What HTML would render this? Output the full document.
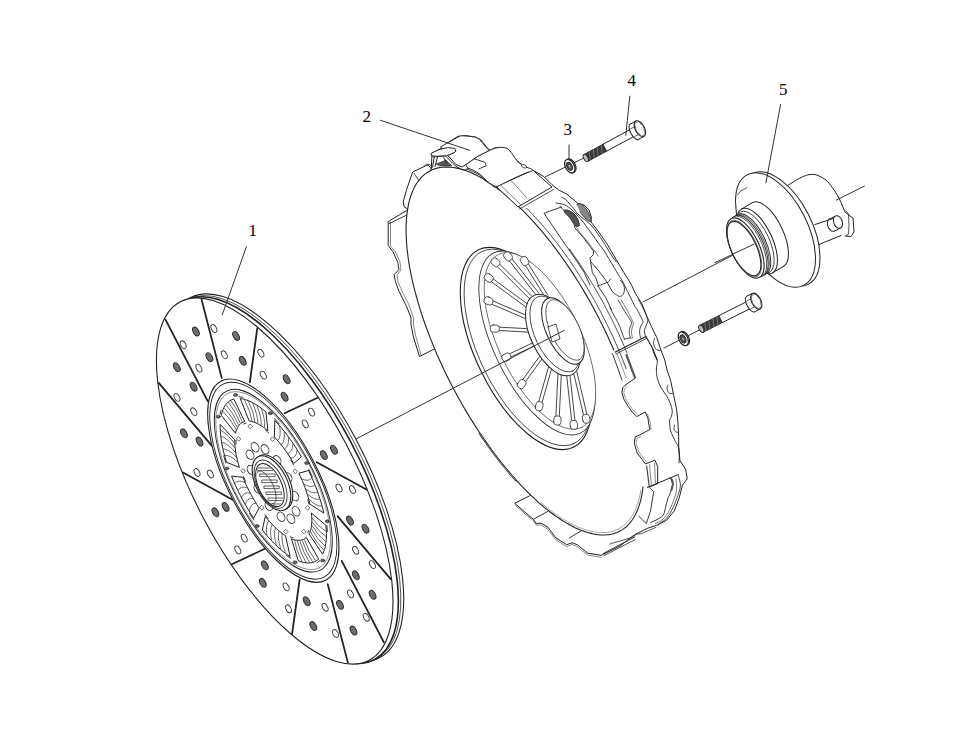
<!DOCTYPE html>
<html><head><meta charset="utf-8"><style>
html,body{margin:0;padding:0;background:#fff;}
svg{display:block;}
text{font-family:"Liberation Serif",serif;}
</style></head><body>
<svg width="960" height="750" viewBox="0 0 960 750" stroke-linecap="round" stroke-linejoin="round">
<rect width="960" height="750" fill="#fff"/>
<line x1="864.4" y1="186.1" x2="836.4" y2="200.1" stroke="#333" stroke-width="1"/>
<line x1="754.2" y1="244" x2="643" y2="302" stroke="#333" stroke-width="1"/>
<line x1="545" y1="177" x2="584.2" y2="157.8" stroke="#333" stroke-width="1"/>
<line x1="664" y1="348" x2="701.3" y2="329" stroke="#333" stroke-width="1"/>
<path d="M787 186 C789.2 184.7 796.2 179.9 800 178 C803.8 176.1 807 174.9 810 174.5 C813 174.1 815.2 174.4 818 175.5 C820.8 176.6 824.3 178.6 827 181 C829.7 183.4 832 187.2 834 190 C836 192.8 837.7 195.5 839 198 C840.3 200.5 841.5 203.8 842 205" fill="none" stroke="#222" stroke-width="1"/>
<path d="M842 205 L845 212 L850 216 L853 218 L853.5 224 L854 232 L851 236.5 L845.5 236" fill="none" stroke="#222" stroke-width="1"/>
<path d="M846 211 L848.5 214 L849 226 L848.5 234 L846 236" fill="none" stroke="#222" stroke-width="0.8"/>
<ellipse cx="832" cy="225" rx="6.5" ry="4.3" transform="rotate(70 832 225)" fill="#fff" stroke="#222" stroke-width="1"/><path d="M829.5 219 L834.5 231 L840.5 228 L835.5 216 Z" fill="#fff" stroke="none"/><line x1="829.5" y1="219" x2="835.5" y2="216" stroke="#222" stroke-width="1"/><line x1="834.5" y1="231" x2="840.5" y2="228" stroke="#222" stroke-width="1"/><ellipse cx="838" cy="222" rx="6.5" ry="4.3" transform="rotate(70 838 222)" fill="#fff" stroke="#222" stroke-width="1"/>
<line x1="815" y1="224.5" x2="833" y2="218.5" stroke="#222" stroke-width="1"/>
<line x1="819" y1="244.5" x2="841" y2="235.5" stroke="#222" stroke-width="1"/>
<ellipse cx="780" cy="229" rx="62.1" ry="31.9" transform="rotate(63.1 780 229)" fill="#fff" stroke="#222" stroke-width="1"/>
<ellipse cx="775.5" cy="230" rx="62.1" ry="31.9" transform="rotate(63.1 775.5 230)" fill="#fff" stroke="#222" stroke-width="1"/>
<path d="M737.3 195.1 Q739.5 190.5 746.7 187.6" fill="none" stroke="#333" stroke-width="0.8"/>
<ellipse cx="768" cy="234.5" rx="35.5" ry="15.2" transform="rotate(64.8 768 234.5)" fill="#fff" stroke="#222" stroke-width="1"/><path d="M783.7 266.3 L752.3 202.7 L741.3 209.2 L772.7 272.8 Z" fill="#fff" stroke="none"/><line x1="783.7" y1="266.3" x2="772.7" y2="272.8" stroke="#222" stroke-width="1"/><line x1="752.3" y1="202.7" x2="741.3" y2="209.2" stroke="#222" stroke-width="1"/><ellipse cx="757" cy="241" rx="35.5" ry="15.2" transform="rotate(64.8 757 241)" fill="#fff" stroke="#222" stroke-width="1"/>
<ellipse cx="755" cy="242.2" rx="33.5" ry="14.3" transform="rotate(64.8 755 242.2)" fill="#fff" stroke="#333" stroke-width="0.8"/>
<ellipse cx="751.8" cy="244.2" rx="33" ry="14" transform="rotate(64.8 751.8 244.2)" fill="#fff" stroke="#222" stroke-width="0.9"/>
<ellipse cx="750.5" cy="245" rx="33" ry="14" transform="rotate(64.8 750.5 245)" fill="#fff" stroke="#222" stroke-width="0.7"/>
<ellipse cx="749.2" cy="245.7" rx="33" ry="14" transform="rotate(64.8 749.2 245.7)" fill="#fff" stroke="#222" stroke-width="0.9"/>
<ellipse cx="747.9" cy="246.5" rx="33" ry="14" transform="rotate(64.8 747.9 246.5)" fill="#fff" stroke="#222" stroke-width="0.7"/>
<ellipse cx="745.3" cy="248" rx="32.6" ry="14" transform="rotate(64.8 745.3 248)" fill="#fff" stroke="#222" stroke-width="1.1"/>
<ellipse cx="744.3" cy="248.5" rx="30.6" ry="13" transform="rotate(64.8 744.3 248.5)" fill="#fff" stroke="#555" stroke-width="0.7"/>
<ellipse cx="744" cy="248.6" rx="29.4" ry="12.5" transform="rotate(64.8 744 248.6)" fill="#fff" stroke="#222" stroke-width="1.1"/>
<line x1="754.2" y1="244" x2="715" y2="262.7" stroke="#333" stroke-width="1"/>
<path d="M606.6 151.2 L636 135.3 L632.3 128.4 L602.9 144.3 Z" fill="#fff" stroke="none"/><line x1="606.6" y1="151.2" x2="636" y2="135.3" stroke="#222" stroke-width="1"/><line x1="602.9" y1="144.3" x2="632.3" y2="128.4" stroke="#222" stroke-width="1"/><path d="M587.7 161.4 L606.6 151.2 L602.9 144.3 L583.9 154.6 Z" fill="#3c3c3c" stroke="#222" stroke-width="0.9"/><line x1="590.3" y1="160" x2="589.2" y2="151.7" stroke="#888" stroke-width="0.7"/><line x1="594.3" y1="157.9" x2="593.2" y2="149.6" stroke="#888" stroke-width="0.7"/><line x1="598.2" y1="155.7" x2="597.1" y2="147.4" stroke="#888" stroke-width="0.7"/><line x1="602.2" y1="153.6" x2="601.1" y2="145.3" stroke="#888" stroke-width="0.7"/><ellipse cx="585.8" cy="158" rx="3.9" ry="2.1" transform="rotate(61.6 585.8 158)" fill="#bbb" stroke="#222" stroke-width="0.9"/><ellipse cx="634.2" cy="131.8" rx="8.7" ry="3.6" transform="rotate(61.6 634.2 131.8)" fill="#fff" stroke="#222" stroke-width="1"/><path d="M638.3 139.5 L644 136.4 L635.8 121.1 L630 124.2 Z" fill="#fff" stroke="none"/><line x1="638.3" y1="139.5" x2="644" y2="136.4" stroke="#222" stroke-width="1"/><line x1="630" y1="124.2" x2="635.8" y2="121.1" stroke="#222" stroke-width="1"/><line x1="630.5" y1="128.9" x2="636.8" y2="125.5" stroke="#333" stroke-width="0.8"/><line x1="634.7" y1="136.5" x2="640.9" y2="133.1" stroke="#333" stroke-width="0.8"/><ellipse cx="639.9" cy="128.7" rx="8.7" ry="4.6" transform="rotate(61.6 639.9 128.7)" fill="#fff" stroke="#222" stroke-width="1.1"/><path d="M641.3 135.9 L636.1 130.8 L634.7 123.6 L638.4 121.6 L643.7 126.7 L645.1 133.9 Z" fill="none" stroke="#444" stroke-width="0.7"/>
<path d="M722.3 322.6 L752.2 307.6 L748.7 300.6 L718.8 315.7 Z" fill="#fff" stroke="none"/><line x1="722.3" y1="322.6" x2="752.2" y2="307.6" stroke="#222" stroke-width="1"/><line x1="718.8" y1="315.7" x2="748.7" y2="300.6" stroke="#222" stroke-width="1"/><path d="M703.1 332.3 L722.3 322.6 L718.8 315.7 L699.5 325.3 Z" fill="#3c3c3c" stroke="#222" stroke-width="0.9"/><line x1="705.7" y1="330.9" x2="704.9" y2="322.6" stroke="#888" stroke-width="0.7"/><line x1="709.8" y1="328.9" x2="708.9" y2="320.6" stroke="#888" stroke-width="0.7"/><line x1="713.8" y1="326.9" x2="713" y2="318.6" stroke="#888" stroke-width="0.7"/><line x1="717.8" y1="324.9" x2="717" y2="316.6" stroke="#888" stroke-width="0.7"/><ellipse cx="701.3" cy="328.8" rx="3.9" ry="2.1" transform="rotate(63.3 701.3 328.8)" fill="#bbb" stroke="#222" stroke-width="0.9"/><ellipse cx="750.4" cy="304.1" rx="8.7" ry="3.6" transform="rotate(63.3 750.4 304.1)" fill="#fff" stroke="#222" stroke-width="1"/><path d="M754.4 311.9 L760.2 309 L752.4 293.4 L746.5 296.3 Z" fill="#fff" stroke="none"/><line x1="754.4" y1="311.9" x2="760.2" y2="309" stroke="#222" stroke-width="1"/><line x1="746.5" y1="296.3" x2="752.4" y2="293.4" stroke="#222" stroke-width="1"/><line x1="746.9" y1="301" x2="753.2" y2="297.8" stroke="#333" stroke-width="0.8"/><line x1="750.8" y1="308.8" x2="757.1" y2="305.6" stroke="#333" stroke-width="0.8"/><ellipse cx="756.3" cy="301.2" rx="8.7" ry="4.6" transform="rotate(63.3 756.3 301.2)" fill="#fff" stroke="#222" stroke-width="1.1"/><path d="M757.5 308.4 L752.4 303.1 L751.2 295.9 L755 294 L760.1 299.3 L761.3 306.5 Z" fill="none" stroke="#444" stroke-width="0.7"/>
<ellipse cx="570.9" cy="165.6" rx="7.3" ry="4.4" transform="rotate(-118.4 570.9 165.6)" fill="#fff" stroke="#222" stroke-width="1.1"/><ellipse cx="569.8" cy="166.2" rx="7.3" ry="4.4" transform="rotate(-118.4 569.8 166.2)" fill="#fff" stroke="#222" stroke-width="1.3"/><ellipse cx="569.5" cy="166.3" rx="4.3" ry="2.6" transform="rotate(-118.4 569.5 166.3)" fill="#555" stroke="#222" stroke-width="0.9"/><ellipse cx="569.5" cy="166.3" rx="2.2" ry="1.3" transform="rotate(-118.4 569.5 166.3)" fill="#aaa" stroke="#333" stroke-width="0.6"/>
<ellipse cx="684.5" cy="338.2" rx="7.3" ry="4.4" transform="rotate(-116.7 684.5 338.2)" fill="#fff" stroke="#222" stroke-width="1.1"/><ellipse cx="683.3" cy="338.8" rx="7.3" ry="4.4" transform="rotate(-116.7 683.3 338.8)" fill="#fff" stroke="#222" stroke-width="1.3"/><ellipse cx="683" cy="338.9" rx="4.3" ry="2.6" transform="rotate(-116.7 683 338.9)" fill="#555" stroke="#222" stroke-width="0.9"/><ellipse cx="683" cy="338.9" rx="2.2" ry="1.3" transform="rotate(-116.7 683 338.9)" fill="#aaa" stroke="#333" stroke-width="0.6"/>
<path d="M419.4 356.2 L413.4 336.9 L411 324.9 L411 317.7 L406.2 305.7 L399 291.3 L395.4 281.7 L394.2 274.5 L399 269.7 L397.8 262.5 L393 251.7 L388.2 245.6 L388.2 221.6 L406.2 210.8 L408.6 209.6 L404 206.7 L403.3 201.3 L406.7 189.3 L412.7 172 L428 164.7 L431.3 168.7 L432 153.3 L442 148 L447.3 143 L458 136.3 L466 135.7 L475.3 137 L480.7 139.7 L486 146.3 L490 150.3 L495.3 147.7 L502 147.7 L508.7 151.7 L514 158.3 L520.7 163.7 L526 167.7 L534.7 171.3 L544 176.7 L552 184.7 L558.7 190 L566.7 194 L574.7 200.7 L578 203.5 L584 205 L589 210 L591.3 217 L591 222 L597.3 230 L606.7 243.3 L616 259.3 L624 272.7 L630.7 283.3 L635.3 293.3 L642 304 L647.3 317.3 L652.7 329.3 L656.7 337.3 L660.7 349.3 L664.7 360 L667.3 370.7 L670.7 380.7 L674 396.7 L676.7 410 L678 423.3 L678.7 436.7 L678.7 450 L680 460.7 L685.6 469.2 L687.2 478.8 L682.4 485.2 L679.2 498 L674.4 510.8 L666.4 520.4 L656.8 525.2 L647.2 528.4 L634.4 534.8 L620 546 L601.3 555.3 L588 553.3 L585.3 551.3 L577.3 544.7 L572 542.7 L566.7 544.7 L556 538 L548 527.3 L541.3 523.3 L536 523.3 L533.3 519.3 L514.7 503.3 L530.7 495.3 L529.1 492.1 L523.7 486.7 L518.3 481 L512.9 475 L507.6 468.7 L502.2 462.2 L497 455.5 L491.8 448.5 L486.6 441.4 L481.5 434 L476.6 426.5 L471.7 418.8 L466.9 411 L462.3 403 L457.8 395 L453.4 386.8 L449.2 378.6 L445.2 370.3 L441.3 361.9 L437.6 353.6 L435 349 Z" fill="#fff" stroke="#222" stroke-width="1"/>
<path d="M388.2 221.6 L390.5 222.5 L390.5 246 L395.5 252 L400 262 L401 270 L397 275 L398 282 L402 291 L409 305 L413.5 318 L413.5 325 L416 337 L421 355" fill="none" stroke="#555" stroke-width="0.7"/>
<line x1="414" y1="173.3" x2="419.3" y2="181.3" stroke="#222" stroke-width="0.8"/>
<line x1="389.5" y1="223.5" x2="408" y2="214.4" stroke="#222" stroke-width="0.9"/>
<path d="M515.5 505.5 L533.5 521 L536 525 L541 525 L547.5 529 L555.5 539.5 L566.5 546.5 L572 544.5 L577 546.5 L585 553 L588 555.2 L601.3 557.3" fill="none" stroke="#555" stroke-width="0.7"/>
<line x1="533.3" y1="519.3" x2="548" y2="511.3" stroke="#222" stroke-width="0.9"/>
<line x1="569.3" y1="538" x2="582.7" y2="530" stroke="#222" stroke-width="0.9"/>
<line x1="603" y1="553.6" x2="634.4" y2="537.2" stroke="#222" stroke-width="0.9"/>
<line x1="604" y1="555.6" x2="635.2" y2="539.6" stroke="#222" stroke-width="0.8"/>
<path d="M610 543.9 C613.5 542.8 626.8 539.1 631.3 537.5 C635.8 535.9 634.9 535 636.7 534.3 C638.5 533.6 638.8 534.4 642 533.3 C645.2 532.1 653.6 528.4 655.9 527.4" fill="none" stroke="#222" stroke-width="0.8"/>
<path d="M561.9 197.4 C562.5 197.8 564.4 198.3 565.7 199.5 C567 200.7 568.6 202.8 569.9 204.3 C571.2 205.8 572.4 207 573.7 208.6 C575 210.2 575.9 212.2 577.6 213.9 C579.3 215.6 581.6 217 584 219 C586.4 221 589.7 223.6 592 226 C594.3 228.4 595.7 231 597.6 233.6 C599.5 236.2 601.5 238.9 603.2 241.6 C604.9 244.3 606.5 247.2 608 249.6 C609.5 252 610.6 253.9 612 256 C613.4 258.1 615.7 261 616.4 262" fill="none" stroke="#222" stroke-width="0.9"/>
<path d="M556 203 C557.5 203.3 562.1 203.8 564.8 205 C567.5 206.2 569.5 207.8 572 210 C574.5 212.2 577.6 215.7 580 218.4 C582.4 221.1 584.3 223.6 586.4 226.4 C588.5 229.2 590.8 232.4 592.8 235.2 C594.8 238 596.6 240.7 598.4 243.2 C600.2 245.7 601.5 246.9 603.6 250 C605.7 253.1 608.4 258 610.8 262 C613.2 266 616.1 270.9 618 274 C619.9 277.1 620.8 278.3 622 280.4 C623.2 282.5 623.9 284.1 625.2 286.8 C626.5 289.5 628.4 293.2 630 296.4 C631.6 299.6 633.6 303.8 634.8 306 C636 308.2 636 307.4 637.2 309.6 C638.4 311.8 641.1 317.1 642 319.2 C642.9 321.3 643.1 321.1 642.8 322.4 C642.5 323.7 640.9 325.6 640.4 327.2 C639.9 328.8 639.6 330.4 639.6 332 C639.6 333.6 640.1 335.7 640.4 336.8 C640.7 337.9 641.1 338.1 641.2 338.4" fill="none" stroke="#222" stroke-width="0.9"/>
<path d="M638.8 300 C639.5 301.3 641.5 304.8 643 308 C644.5 311.2 647 316.5 647.6 319.2 C648.2 321.9 647.3 322.1 646.8 324 C646.3 325.9 644.7 328.5 644.4 330.4 C644.1 332.3 644.9 334.1 645.2 335.2 C645.5 336.3 645.9 336.5 646 336.8" fill="none" stroke="#222" stroke-width="0.9"/>
<path d="M652.4 348 C652.8 349.2 653.7 352.9 654.5 355 C655.3 357.1 657 358.3 657.3 360.6 C657.6 362.9 656.4 366.1 656.4 369 C656.4 371.9 656.5 375.2 657.3 378.3 C658.1 381.4 659.5 384.7 661.1 387.7 C662.7 390.7 665.2 393.5 666.7 396.1 C668.2 398.7 669.5 401 670.4 403.5 C671.3 406 672.1 408.8 672.3 411 C672.4 413.2 671.8 415.1 671.3 416.6 C670.8 418.2 669.8 418.9 669.5 420.3 C669.2 421.7 669.6 423.2 669.8 425 C670 426.8 669.8 428.4 670.7 431.2 C671.6 433.9 674 438.6 675.4 441.5 C676.8 444.4 678.5 445.3 679.1 448.9 C679.7 452.5 679.1 460.6 679.1 462.9" fill="none" stroke="#222" stroke-width="0.9"/>
<path d="M654.5 338.4 C654.3 339.2 653.4 341.4 653.5 343 C653.6 344.6 654.2 346.8 655 348 C655.8 349.2 657.1 349.8 658 350.2 C658.9 350.6 660 350.4 660.4 350.4" fill="none" stroke="#222" stroke-width="0.8"/>
<path d="M668 385 C667.8 385.7 666.8 387.7 667 389 C667.2 390.3 668.1 392.2 669 393 C669.9 393.8 671.9 393.4 672.5 393.5" fill="none" stroke="#222" stroke-width="0.8"/>
<path d="M674.5 425 C674.4 425.7 673.8 427.8 674 429 C674.2 430.2 675.2 431.5 676 432 C676.8 432.5 678.1 432 678.5 432" fill="none" stroke="#222" stroke-width="0.8"/>
<path d="M560 206.5 L564 210.4 L568 210.4 L573.6 213.6 L577.6 219.2 L579.2 225.6 L574.4 225.6 L574.4 227.2 L578.4 232 L584 238.4 L588.8 244.8 L591.2 248 L593.6 251.2 L593.2 254.8 L590 258 L592.4 273.2 L595.6 277.2 L598 284.4 L598 286 L606 298 L611.6 310" fill="none" stroke="#222" stroke-width="0.9"/>
<path d="M576 226.4 C576.8 227.6 579.1 231.3 580.8 233.6 C582.5 235.9 584.8 238 586.4 240 C588 242 589.1 243.9 590.4 245.6 C591.7 247.3 592.7 248.3 594 250 C595.3 251.7 597.3 255 598 256" fill="none" stroke="#444" stroke-width="0.7"/>
<path d="M591 262 C592.2 263.3 595.8 267.3 598 270 C600.2 272.7 602.3 275.6 604 278 C605.7 280.4 607 282.1 608.4 284.4 C609.8 286.7 611.1 289.9 612.4 291.6 C613.7 293.3 615.2 294 616.4 294.8 C617.6 295.6 618.5 296.4 619.6 296.4 C620.7 296.4 622 295.9 622.8 294.8 C623.6 293.7 624.3 291.7 624.4 290 C624.5 288.3 624.3 286 623.6 284.4 C622.9 282.8 620.9 281.1 620.4 280.4" fill="none" stroke="#222" stroke-width="0.9"/>
<path d="M598 286 L608.4 282 L610.8 278.8" fill="none" stroke="#222" stroke-width="0.8"/>
<path d="M564 210.4 C564.7 210.4 566.4 209.7 568 210.2 C569.6 210.7 572 212.1 573.6 213.6 C575.2 215.1 576.7 217.2 577.6 219.2 C578.5 221.2 579.6 224.5 579.2 225.6 C578.8 226.7 576.5 226.9 575 225.6 C573.5 224.3 571.8 220.3 570 218 C568.2 215.7 565 213 564 212" fill="#555" stroke="#222" stroke-width="0.8"/>
<path d="M576.8 204.8 C577.3 204.6 578.8 203.3 580 203.6 C581.2 203.9 582.7 205 584 206.4 C585.3 207.8 586.9 210.1 588 212 C589.1 213.9 589.9 216 590.4 217.6 C590.9 219.2 591.5 221.4 590.8 221.6 C590.1 221.8 587.8 220.6 586 219 C584.2 217.4 581 213.2 580 212" fill="#888" stroke="#222" stroke-width="0.8"/>
<path d="M561.6 206.9 L544 213.3 L560 236.8 L576 260 L584 272 L590 285" fill="none" stroke="#222" stroke-width="0.9"/>
<path d="M618 300 C619.2 302 623.1 308.5 625.2 312 C627.3 315.5 629.7 318.8 630.8 320.8 C631.9 322.8 631.7 322.9 631.6 324 C631.5 325.1 630.4 325.9 630 327.2 C629.6 328.5 629.2 330.4 629.2 332 C629.2 333.6 629.7 335.7 630 336.8 C630.3 337.9 630.7 338.1 630.8 338.4" fill="none" stroke="#222" stroke-width="0.8"/>
<path d="M621.2 300 C622.2 301.7 625.1 306.5 627 310 C628.9 313.5 631.3 318.5 632.4 320.8 C633.5 323.1 633.6 322.8 633.5 324 C633.4 325.2 632.3 326.5 632 328 C631.7 329.5 631.4 331.3 631.5 333 C631.6 334.7 632.3 337.2 632.5 338" fill="none" stroke="#444" stroke-width="0.7"/>
<path d="M624.4 339.2 L630.8 337.6" fill="none" stroke="#222" stroke-width="0.8"/>
<path d="M610 308 L618.8 324 L624.4 339.2" fill="none" stroke="#222" stroke-width="0.8"/>
<path d="M612.4 353.6 L646 336.4 L652.4 348 L657.2 360" fill="none" stroke="#222" stroke-width="1.1"/>
<path d="M613 355.5 L646.5 338.4" fill="none" stroke="#222" stroke-width="0.8"/>
<line x1="613" y1="355" x2="622" y2="380" stroke="#555" stroke-width="0.6"/>
<line x1="615" y1="354.2" x2="624" y2="378.8" stroke="#555" stroke-width="0.6"/>
<line x1="617" y1="353.4" x2="626" y2="377.6" stroke="#555" stroke-width="0.6"/>
<path d="M626.5 355 L634.9 377.4" fill="none" stroke="#555" stroke-width="2.2"/>
<path d="M647.3 487.4 L678.3 474.6" fill="none" stroke="#222" stroke-width="1"/>
<path d="M650.5 488.5 L653.7 491.7 L650.5 510.9 L646.3 523.7 L638.8 516.2" fill="none" stroke="#222" stroke-width="0.9"/>
<path d="M669.7 477.8 C670.2 478.3 672.7 478.7 672.9 481 C673.1 483.3 671.7 488.7 670.8 491.7 C669.9 494.7 668.5 496.4 667.6 499.1 C666.7 501.8 666.4 504.8 665.5 507.7 C664.6 510.6 664.8 513.7 662.3 516.2 C659.8 518.7 652.5 521.5 650.5 522.6" fill="none" stroke="#222" stroke-width="0.9"/>
<path d="M671 478 L673 484 L671.5 490" fill="none" stroke="#555" stroke-width="2"/>
<path d="M678.3 475.7 C678.6 477.5 680.8 482.2 680.4 486.3 C680 490.4 677.5 496.3 676.1 500.2 C674.7 504.1 673.5 506.8 671.9 509.8 C670.3 512.8 668.8 515.8 666.5 518.3 C664.2 520.8 659.4 523.6 658 524.7" fill="none" stroke="#222" stroke-width="0.8"/>
<path d="M676 478.8 C676.1 480.7 677 486.1 676.5 490 C676 493.9 674.3 498.3 673 502 C671.7 505.7 670.3 509 668.5 512 C666.7 515 664.2 518.1 662 520 C659.8 521.9 656.3 523 655.2 523.6" fill="none" stroke="#444" stroke-width="0.7"/>
<path d="M526.7 208.3 L529.7 211.4 L532.7 214.5 L535.6 217.7 L538.6 220.9 L541.6 224.3 L544.5 227.7 L547.5 231.2 L550.4 234.8 L553.3 238.5 L556.2 242.2 L559.1 246 L562 249.8 L564.8 253.7 L567.7 257.7 L570.5 261.7 L573.2 265.8 L576 270 L578.7 274.2 L581.4 278.4 L584.1 282.7 L586.7 287 L589.3 291.4 L591.8 295.8 L594.3 300.2 L596.8 304.7 L599.2 309.1 L601.6 313.7 L603.9 318.2 L606.2 322.8 L608.4 327.3 L610.6 331.9 L612.8 336.5 L614.8 341.1 L616.9 345.7 L618.8 350.3 L620.8 354.9 L622.6 359.5 L624.4 364.1 L626.2 368.7" fill="none" stroke="#222" stroke-width="0.8"/>
<path d="M569.3 248.9 L571.6 252.1 L573.9 255.4 L576.2 258.7 L578.5 262 L580.7 265.4 L582.9 268.8 L585.1 272.2 L587.3 275.7 L589.5 279.2 L591.6 282.7 L593.8 286.2 L595.9 289.8 L597.9 293.4 L600 297 L602 300.7 L604 304.3 L605.9 308 L607.9 311.7 L609.8 315.4 L611.6 319.1 L613.5 322.8 L615.3 326.6 L617 330.3 L618.8 334.1 L620.5 337.8 L622.1 341.6 L623.8 345.4 L625.4 349.1 L626.9 352.9" fill="none" stroke="#222" stroke-width="0.8"/>
<ellipse cx="524.9" cy="351" rx="203.6" ry="80.7" transform="rotate(62.2 524.9 351)" fill="#fff" stroke="none" stroke-width="0"/>
<path d="M643 486.8 L642.6 489.9 L642.2 492.9 L641.7 495.7 L641.1 498.5 L640.5 501.2 L639.7 503.8 L638.9 506.3 L638.1 508.7 L637.1 511 L636.1 513.2 L635 515.3 L633.9 517.3 L632.7 519.2 L631.4 521 L630.1 522.7 L628.7 524.3 L627.2 525.8 L625.7 527.2 L624.1 528.4 L622.4 529.6 L620.7 530.6 L618.9 531.6 L617.1 532.4 L615.2 533.1 L613.2 533.7 L611.2 534.2 L609.2 534.6 L607.1 534.8 L604.9 535 L602.7 535 L600.4 534.9 L598.1 534.7 L595.8 534.4 L593.4 534 L590.9 533.4 L588.5 532.8 L586 532 L583.4 531.1 L580.8 530.2 L578.2 529.1 L575.5 527.9 L572.8 526.5 L570.1 525.1 L567.4 523.6 L564.6 521.9 L561.8 520.2 L559 518.3 L556.1 516.4 L553.3 514.3 L550.4 512.2 L547.5 509.9 L544.6 507.6 L541.7 505.1 L538.7 502.6 L535.8 499.9 L532.9 497.2 L529.9 494.4 L527 491.4 L524 488.4 L521 485.4 L518.1 482.2 L515.1 478.9 L512.2 475.6 L509.3 472.2 L506.3 468.7 L503.4 465.2 L500.5 461.5 L497.6 457.9 L494.8 454.1 L491.9 450.3 L489.1 446.4 L486.3 442.4 L483.5 438.4 L480.8 434.4 L478 430.3 L475.3 426.1 L472.7 421.9 L470 417.7 L467.4 413.4 L464.8 409.1 L462.3 404.7 L459.8 400.3 L457.4 395.9 L455 391.5 L452.6 387 L450.3 382.5 L448 378 L445.8 373.4 L443.6 368.9 L441.5 364.3 L439.4 359.7 L437.3 355.2 L435.4 350.6 L433.5 346 L431.6 341.4 L429.8 336.9 L428.1 332.3 L426.4 327.8 L424.8 323.2 L423.2 318.7 L421.7 314.2 L420.3 309.8 L418.9 305.3 L417.6 300.9 L416.4 296.5 L415.2 292.2 L414.1 287.8 L413.1 283.6 L412.1 279.3 L411.2 275.1 L410.4 271 L409.6 266.9 L408.9 262.8 L408.3 258.9 L407.8 254.9 L407.3 251.1 L406.9 247.2 L406.6 243.5 L406.4 239.8 L406.2 236.2 L406.1 232.7 L406.1 229.2 L406.1 225.8 L406.2 222.5 L406.4 219.3 L406.7 216.1 L407.1 213 L407.5 210 L408 207.1 L408.5 204.3 L409.1 201.6 L409.8 199 L410.6 196.5 L411.5 194 L412.4 191.7 L413.4 189.4 L414.4 187.3 L415.5 185.3 L416.7 183.3 L418 181.5 L419.3 179.8 L420.7 178.1 L422.1 176.6 L423.7 175.2 L425.2 173.9 L426.9 172.7 L428.6 171.7 L430.3 170.7 L432.2 169.8 L434 169.1 L436 168.5 L438 167.9 L440 167.5 L442.1 167.2 L444.2 167.1 L446.4 167 L448.7 167.1 L451 167.2 L453.3 167.5 L455.7 167.9 L458.1 168.4 L460.6 169 L463.1 169.7 L465.6 170.6 L468.2 171.5 L470.8 172.6 L473.5 173.8 L476.1 175.1 L478.8 176.4 L481.6 177.9 L484.3 179.6 L487.1 181.3 L490 183.1 L492.8 185 L495.6 187 L498.5 189.2 L501.4 191.4 L504.3 193.7 L507.2 196.1 L510.2 198.7 L513.1 201.3 L516 204 L519 206.8 L521.9 209.7 L524.9 212.6 L527.8 215.7 L530.8 218.8 L533.8 222.1 L536.7 225.4 L539.6 228.7 L542.6 232.2 L545.5 235.7 L548.4 239.3 L551.3 243 L554.1 246.7 L557 250.6 L559.8 254.4 L562.6 258.3 L565.4 262.3 L568.2 266.4 L570.9 270.4 L573.7 274.6 L576.3 278.8 L579 283 L581.6 287.3 L584.2 291.6 L586.7 295.9 L589.2 300.3 L591.7 304.7 L594.1 309.2 L596.5 313.7 L598.8 318.1 L601.1 322.7 L603.4 327.2 L605.6 331.7 L607.7 336.3 L609.8 340.9 L611.8 345.4 L613.8 350" fill="none" stroke="#222" stroke-width="1.1"/>
<path d="M640.8 490.5 L640.3 493.5 L639.7 496.4 L639 499.2 L638.3 501.9 L637.4 504.4 L636.5 506.9 L635.6 509.3 L634.5 511.5 L633.4 513.7 L632.2 515.7 L630.9 517.7 L629.6 519.5 L628.2 521.2 L626.7 522.8 L625.1 524.3 L623.5 525.6 L621.8 526.9 L620.1 528 L618.3 529 L616.4 529.9 L614.4 530.6 L612.4 531.3 L610.4 531.8 L608.3 532.2 L606.1 532.5 L603.9 532.6 L601.6 532.6 L599.3 532.5 L596.9 532.3 L594.4 532 L592 531.5 L589.4 530.9 L586.9 530.2 L584.3 529.4 L581.6 528.5 L578.9 527.4 L576.2 526.2 L573.4 524.9 L570.6 523.5 L567.8 521.9 L565 520.3 L562.1 518.5 L559.2 516.6 L556.2 514.6 L553.3 512.5 L550.3 510.3 L547.3 508 L544.3 505.5 L541.3 503" fill="none" stroke="#666" stroke-width="0.6"/>
<path d="M515.6 481 L513.1 478.2 L510.6 475.4 L508.1 472.4 L505.6 469.4 L503.1 466.4 L500.6 463.3 L498.2 460.2 L495.7 457 L493.3 453.8 L490.9 450.5 L488.4 447.2 L486.1 443.8 L483.7 440.4 L481.3 437 L479 433.5 L479.5 432.6 L481.8 436 L484.2 439.4 L486.5 442.7 L488.9 446.1 L491.2 449.3 L493.6 452.6 L496.1 455.8 L498.5 458.9 L500.9 462 L503.3 465.1 L505.8 468.1 L508.3 471 L510.7 473.9 L513.2 476.7 L515.7 479.5 Z" fill="#fff" stroke="#222" stroke-width="0.9"/>
<path d="M612.4 353.6 L614.8 360 L622 380" fill="none" stroke="#222" stroke-width="0.9"/>
<path d="M634.9 378.3 L625.6 384.9" fill="none" stroke="#222" stroke-width="1"/>
<path d="M625.6 384.9 L622.8 387.7 L621.9 392.3 L623.7 398.9 L627.5 405.4 L632.1 411.9 L636.8 416.6 L645.2 411.9 L648 418.5 L648.9 425 L650.2 429.3 L639.9 434.9 L635.3 436.8 L634.3 443.3 L637.1 452.7 L641.8 459.2 L645.5 463.9 L654.9 460.1 L657.7 466.7 L657.7 483.5 L649.3 487.2" fill="none" stroke="#222" stroke-width="1"/>
<path d="M627 386.5 L624.5 389 L623.8 392.5 L625.5 398.5 L629 404.5 L633.5 410.5 L637.5 414" fill="none" stroke="#555" stroke-width="0.6"/>
<path d="M641 436.5 L637 438.5 L636.2 443.5 L639 452 L643.2 458 L646.5 462" fill="none" stroke="#555" stroke-width="0.6"/>
<path d="M647.5 414 L650.5 423 L651 429" fill="none" stroke="#555" stroke-width="0.6"/>
<path d="M646.7 466 L649.3 487.2" fill="none" stroke="#444" stroke-width="1.2"/>
<path d="M649.5 465 L651.5 486" fill="none" stroke="#555" stroke-width="0.7"/>
<path d="M654.5 463 L655.5 484.5" fill="none" stroke="#555" stroke-width="0.7"/>
<path d="M446.5 156.9 C447.3 157.7 449.7 160.2 451.1 161.6 C452.5 163 453.8 164.4 454.9 165.3 C456 166.2 456.3 166.4 457.7 167.2 C459.1 168 461.8 169.7 463.3 170 C464.9 170.3 466.1 169.4 467 169.1 C467.9 168.8 468.6 168.3 468.9 168.1" fill="none" stroke="#222" stroke-width="1"/>
<path d="M496.5 186.3 L532.9 170.2 L552 187 L518.3 206.7 Z" fill="#fff" stroke="#222" stroke-width="1"/>
<path d="M519.5 209 L553.5 189.5" fill="none" stroke="#222" stroke-width="0.8"/>
<path d="M500.5 185 L521 205" fill="none" stroke="#444" stroke-width="0.7"/>
<path d="M511 180.4 L527 197.9" fill="none" stroke="#444" stroke-width="0.7"/>
<path d="M467 169.1 C469 170 476.2 172.8 479.1 174.7 C482.1 176.6 482.8 178.8 484.7 180.3 C486.6 181.9 488.6 182.8 490.3 184 C492 185.2 494.2 187.1 495 187.7" fill="none" stroke="#222" stroke-width="0.9"/>
<path d="M467.3 163.6 C469 162.4 473.9 158.6 477.5 156.4 C481.1 154.2 485.8 152 489.2 150.5 C492.6 149 495 148 497.9 147.6 C500.8 147.2 504.3 147.2 506.7 148.3 C509.1 149.4 510.8 152.1 512.5 154.2 C514.2 156.3 515.4 159 516.9 160.7 C518.4 162.4 519.6 163.3 521.3 164.4 C523 165.5 525.2 166.3 527.1 167.3 C529 168.3 533.1 169.2 532.9 170.2 C532.6 171.2 529 171.6 525.6 173.1 C522.2 174.6 516.6 177.1 512.5 179 C508.4 180.9 503.5 183.6 500.8 184.8 C498.1 186 497.9 186.3 496.5 186.3 C495.1 186.3 493.8 185.8 492.1 184.8 C490.4 183.8 488.2 182.1 486.3 180.4 C484.4 178.7 482.6 176.3 480.4 174.6 C478.2 172.9 475.3 171.4 473.1 170.2 C470.9 169 468.3 168.4 467.3 167.3 C466.3 166.2 465.6 165.4 467.3 163.6 Z" fill="#fff" stroke="#222" stroke-width="1"/>
<path d="M473.1 158.5 L484.8 162.2 L486.3 165.8 L479 168.8" fill="#fff" stroke="#222" stroke-width="0.9"/>
<ellipse cx="524" cy="166.3" rx="2.8" ry="1.5" transform="rotate(25 524 166.3)" fill="#fff" stroke="#333" stroke-width="0.8"/>
<path d="M440.9 146.7 C442.3 145.9 446.2 143.7 449.3 142 C452.4 140.3 457 137.4 459.5 136.4 C462 135.4 461.6 135.8 464.2 135.9 C466.8 136.1 472.6 136.4 475.4 137.3 C478.2 138.2 479.4 139.7 481 141.1 C482.6 142.5 483.3 144.1 484.7 145.7 C486.1 147.3 488.4 149.7 489.2 150.5 L477.5 156.4 L467.3 163.6 L462 167 L455.8 164.4 L448.3 156 Z" fill="#fff" stroke="#222" stroke-width="1"/>
<path d="M431.5 153.2 L439 149.5 L448.3 147.6 L454.9 148.5 L455.8 151.3 L454.9 152.3 L446.5 156 L432.5 156.9 L431.5 155.1 Z" fill="#fff" stroke="#222" stroke-width="1"/>
<path d="M431.5 155.1 L436.2 156 L449.3 155.1 L455.8 151.3" fill="none" stroke="#444" stroke-width="0.7"/>
<path d="M436 164 L446 160 L452 166 L440 166 Z" fill="#555" stroke="#222" stroke-width="0.5"/>
<path d="M434.3 156.9 L432.5 167.2" fill="none" stroke="#222" stroke-width="1"/>
<path d="M437.5 157 L435 166.5" fill="none" stroke="#222" stroke-width="1"/>
<path d="M443.7 157.5 L447 163.5" fill="none" stroke="#222" stroke-width="0.9"/>
<path d="M425 165.3 C425.8 165.2 428.6 164.1 429.7 164.4 C430.8 164.7 431.4 166.3 431.5 167.2 C431.6 168.1 430.8 169.5 430.6 170" fill="none" stroke="#222" stroke-width="0.9"/>
<ellipse cx="526" cy="348.5" rx="109.6" ry="50.4" transform="rotate(64.3 526 348.5)" fill="#fff" stroke="#222" stroke-width="1.1"/>
<ellipse cx="528" cy="347.5" rx="106.5" ry="49" transform="rotate(64.3 528 347.5)" fill="#fff" stroke="#333" stroke-width="0.8"/>
<ellipse cx="537" cy="343" rx="100" ry="43" transform="rotate(64.3 537 343)" fill="#fff" stroke="#333" stroke-width="0.9"/>
<ellipse cx="540" cy="341" rx="96" ry="41.3" transform="rotate(64.3 540 341)" fill="#fff" stroke="#444" stroke-width="0.7"/>
<line x1="571.7" y1="421.1" x2="566.7" y2="375.9" stroke="#333" stroke-width="0.9"/>
<line x1="575" y1="420.7" x2="570" y2="375.5" stroke="#333" stroke-width="0.9"/>
<rect x="-4.5" y="-3.6" width="9" height="7.2" rx="2.8" transform="translate(573.8 424.9) rotate(-96.3)" fill="#fff" stroke="#333" stroke-width="0.8"/>
<line x1="555.9" y1="416.4" x2="557.9" y2="374" stroke="#333" stroke-width="0.9"/>
<line x1="559.3" y1="416.6" x2="561.3" y2="374.2" stroke="#333" stroke-width="0.9"/>
<rect x="-4.5" y="-3.6" width="9" height="7.2" rx="2.8" transform="translate(557.4 420.5) rotate(-87.3)" fill="#fff" stroke="#333" stroke-width="0.8"/>
<line x1="538.7" y1="401.9" x2="548.4" y2="367.3" stroke="#333" stroke-width="0.9"/>
<line x1="542" y1="402.8" x2="551.7" y2="368.3" stroke="#333" stroke-width="0.9"/>
<rect x="-4.5" y="-3.6" width="9" height="7.2" rx="2.8" transform="translate(539.2 406.2) rotate(-74.2)" fill="#fff" stroke="#333" stroke-width="0.8"/>
<line x1="522.5" y1="379.9" x2="539.5" y2="356.5" stroke="#333" stroke-width="0.9"/>
<line x1="525.3" y1="381.9" x2="542.3" y2="358.5" stroke="#333" stroke-width="0.9"/>
<rect x="-4.5" y="-3.6" width="9" height="7.2" rx="2.8" transform="translate(521.6 384.1) rotate(-54)" fill="#fff" stroke="#333" stroke-width="0.8"/>
<line x1="509.2" y1="354" x2="532.4" y2="343" stroke="#333" stroke-width="0.9"/>
<line x1="510.7" y1="357" x2="533.9" y2="346.1" stroke="#333" stroke-width="0.9"/>
<rect x="-4.5" y="-3.6" width="9" height="7.2" rx="2.8" transform="translate(506.4 357.2) rotate(-25.3)" fill="#fff" stroke="#333" stroke-width="0.8"/>
<line x1="498.9" y1="327.1" x2="527.9" y2="328.7" stroke="#333" stroke-width="0.9"/>
<line x1="498.7" y1="330.5" x2="527.8" y2="332.1" stroke="#333" stroke-width="0.9"/>
<rect x="-4.5" y="-3.6" width="9" height="7.2" rx="2.8" transform="translate(494.8 328.6) rotate(3.2)" fill="#fff" stroke="#333" stroke-width="0.8"/>
<line x1="492.9" y1="300.9" x2="526.2" y2="315.3" stroke="#333" stroke-width="0.9"/>
<line x1="491.5" y1="304.1" x2="524.9" y2="318.4" stroke="#333" stroke-width="0.9"/>
<rect x="-4.5" y="-3.6" width="9" height="7.2" rx="2.8" transform="translate(488.5 300.9) rotate(23.2)" fill="#fff" stroke="#333" stroke-width="0.8"/>
<line x1="493" y1="278.8" x2="527.6" y2="304.1" stroke="#333" stroke-width="0.9"/>
<line x1="491" y1="281.5" x2="525.6" y2="306.8" stroke="#333" stroke-width="0.9"/>
<rect x="-4.5" y="-3.6" width="9" height="7.2" rx="2.8" transform="translate(488.7 277.8) rotate(36.2)" fill="#fff" stroke="#333" stroke-width="0.8"/>
<line x1="499.5" y1="263.9" x2="532" y2="296.4" stroke="#333" stroke-width="0.9"/>
<line x1="497.1" y1="266.3" x2="529.6" y2="298.8" stroke="#333" stroke-width="0.9"/>
<rect x="-4.5" y="-3.6" width="9" height="7.2" rx="2.8" transform="translate(495.5 262.3) rotate(45.1)" fill="#fff" stroke="#333" stroke-width="0.8"/>
<line x1="511.8" y1="258.5" x2="539" y2="293.3" stroke="#333" stroke-width="0.9"/>
<line x1="509.1" y1="260.6" x2="536.3" y2="295.3" stroke="#333" stroke-width="0.9"/>
<rect x="-4.5" y="-3.6" width="9" height="7.2" rx="2.8" transform="translate(508 256.4) rotate(52)" fill="#fff" stroke="#333" stroke-width="0.8"/>
<line x1="528.1" y1="263.5" x2="547.8" y2="295" stroke="#333" stroke-width="0.9"/>
<line x1="525.3" y1="265.3" x2="544.9" y2="296.8" stroke="#333" stroke-width="0.9"/>
<rect x="-4.5" y="-3.6" width="9" height="7.2" rx="2.8" transform="translate(524.6 261) rotate(58)" fill="#fff" stroke="#333" stroke-width="0.8"/>
<line x1="583.6" y1="415.3" x2="573.6" y2="372.8" stroke="#333" stroke-width="0.9"/>
<line x1="586.9" y1="414.5" x2="576.9" y2="372" stroke="#333" stroke-width="0.9"/>
<rect x="-4.5" y="-3.6" width="9" height="7.2" rx="2.8" transform="translate(586.2 418.8) rotate(-103.2)" fill="#fff" stroke="#333" stroke-width="0.8"/>
<ellipse cx="553" cy="335" rx="44" ry="22" transform="rotate(64.3 553 335)" fill="#fff" stroke="#222" stroke-width="1"/>
<ellipse cx="555" cy="334" rx="41" ry="19.7" transform="rotate(64.3 555 334)" fill="#fff" stroke="#333" stroke-width="0.8"/>
<ellipse cx="563" cy="331" rx="36" ry="16.2" transform="rotate(64.3 563 331)" fill="#fff" stroke="#222" stroke-width="1"/>
<ellipse cx="565" cy="330" rx="33" ry="14.2" transform="rotate(64.3 565 330)" fill="#fff" stroke="#444" stroke-width="0.8"/>
<path d="M548 327 L556 324 L560 339 L552 342 L548 327" fill="#fff" stroke="#222" stroke-width="0.8"/>
<line x1="564.3" y1="330.3" x2="355.2" y2="439.4" stroke="#333" stroke-width="1"/>
<ellipse cx="285" cy="477.7" rx="203.4" ry="80.7" transform="rotate(62.2 285 477.7)" fill="#fff" stroke="#222" stroke-width="1.1"/>
<ellipse cx="282.5" cy="479" rx="203" ry="80.5" transform="rotate(62.2 282.5 479)" fill="#fff" stroke="#222" stroke-width="0.7"/>
<ellipse cx="280" cy="480.1" rx="202.8" ry="80.4" transform="rotate(62.2 280 480.1)" fill="#fff" stroke="#222" stroke-width="1.6"/>
<ellipse cx="274.7" cy="481" rx="202.6" ry="80.4" transform="rotate(62.2 274.7 481)" fill="#fff" stroke="#222" stroke-width="1.1"/>
<line x1="201.6" y1="299.6" x2="221.7" y2="377.9" stroke="#222" stroke-width="1.8"/>
<line x1="257.3" y1="328.1" x2="249.8" y2="382.3" stroke="#222" stroke-width="1.8"/>
<line x1="317.6" y1="397.7" x2="284.6" y2="413.2" stroke="#222" stroke-width="1.8"/>
<line x1="366.4" y1="489.5" x2="316.8" y2="462.2" stroke="#222" stroke-width="1.8"/>
<line x1="390.7" y1="579.1" x2="337.7" y2="516.3" stroke="#222" stroke-width="1.8"/>
<line x1="383.9" y1="642.4" x2="341.7" y2="560.9" stroke="#222" stroke-width="1.8"/>
<line x1="347.8" y1="662.4" x2="327.7" y2="584.1" stroke="#222" stroke-width="1.8"/>
<line x1="292.1" y1="633.9" x2="299.6" y2="579.7" stroke="#222" stroke-width="1.8"/>
<line x1="231.8" y1="564.3" x2="264.8" y2="548.8" stroke="#222" stroke-width="1.8"/>
<line x1="183" y1="472.5" x2="232.6" y2="499.8" stroke="#222" stroke-width="1.8"/>
<line x1="158.7" y1="382.9" x2="211.7" y2="445.7" stroke="#222" stroke-width="1.8"/>
<line x1="165.5" y1="319.6" x2="207.7" y2="401.1" stroke="#222" stroke-width="1.8"/>
<ellipse cx="198.9" cy="368.1" rx="4.2" ry="2.5" transform="rotate(62.2 198.9 368.1)" fill="#fff" stroke="#333" stroke-width="0.9"/>
<ellipse cx="209.4" cy="357.2" rx="4.8" ry="2.8" transform="rotate(62.2 209.4 357.2)" fill="#6e6e6e" stroke="#222" stroke-width="0.9"/>
<ellipse cx="224.3" cy="354.7" rx="4.2" ry="2.5" transform="rotate(62.2 224.3 354.7)" fill="#fff" stroke="#333" stroke-width="0.9"/>
<ellipse cx="242.7" cy="360.8" rx="4.8" ry="2.8" transform="rotate(62.2 242.7 360.8)" fill="#6e6e6e" stroke="#222" stroke-width="0.9"/>
<ellipse cx="263.3" cy="375.1" rx="4.2" ry="2.5" transform="rotate(62.2 263.3 375.1)" fill="#fff" stroke="#333" stroke-width="0.9"/>
<ellipse cx="284.6" cy="396.7" rx="4.8" ry="2.8" transform="rotate(62.2 284.6 396.7)" fill="#6e6e6e" stroke="#222" stroke-width="0.9"/>
<ellipse cx="305.2" cy="423.9" rx="4.2" ry="2.5" transform="rotate(62.2 305.2 423.9)" fill="#fff" stroke="#333" stroke-width="0.9"/>
<ellipse cx="323.8" cy="455.1" rx="4.8" ry="2.8" transform="rotate(62.2 323.8 455.1)" fill="#6e6e6e" stroke="#222" stroke-width="0.9"/>
<ellipse cx="339" cy="488" rx="4.2" ry="2.5" transform="rotate(62.2 339 488)" fill="#fff" stroke="#333" stroke-width="0.9"/>
<ellipse cx="349.9" cy="520.5" rx="4.8" ry="2.8" transform="rotate(62.2 349.9 520.5)" fill="#6e6e6e" stroke="#222" stroke-width="0.9"/>
<ellipse cx="355.6" cy="550.3" rx="4.2" ry="2.5" transform="rotate(62.2 355.6 550.3)" fill="#fff" stroke="#333" stroke-width="0.9"/>
<ellipse cx="355.8" cy="575.3" rx="4.8" ry="2.8" transform="rotate(62.2 355.8 575.3)" fill="#6e6e6e" stroke="#222" stroke-width="0.9"/>
<ellipse cx="350.5" cy="593.9" rx="4.2" ry="2.5" transform="rotate(62.2 350.5 593.9)" fill="#fff" stroke="#333" stroke-width="0.9"/>
<ellipse cx="340" cy="604.8" rx="4.8" ry="2.8" transform="rotate(62.2 340 604.8)" fill="#6e6e6e" stroke="#222" stroke-width="0.9"/>
<ellipse cx="325.1" cy="607.3" rx="4.2" ry="2.5" transform="rotate(62.2 325.1 607.3)" fill="#fff" stroke="#333" stroke-width="0.9"/>
<ellipse cx="306.7" cy="601.2" rx="4.8" ry="2.8" transform="rotate(62.2 306.7 601.2)" fill="#6e6e6e" stroke="#222" stroke-width="0.9"/>
<ellipse cx="286.1" cy="586.9" rx="4.2" ry="2.5" transform="rotate(62.2 286.1 586.9)" fill="#fff" stroke="#333" stroke-width="0.9"/>
<ellipse cx="264.8" cy="565.3" rx="4.8" ry="2.8" transform="rotate(62.2 264.8 565.3)" fill="#6e6e6e" stroke="#222" stroke-width="0.9"/>
<ellipse cx="244.2" cy="538.1" rx="4.2" ry="2.5" transform="rotate(62.2 244.2 538.1)" fill="#fff" stroke="#333" stroke-width="0.9"/>
<ellipse cx="225.6" cy="506.9" rx="4.8" ry="2.8" transform="rotate(62.2 225.6 506.9)" fill="#6e6e6e" stroke="#222" stroke-width="0.9"/>
<ellipse cx="210.4" cy="474" rx="4.2" ry="2.5" transform="rotate(62.2 210.4 474)" fill="#fff" stroke="#333" stroke-width="0.9"/>
<ellipse cx="199.5" cy="441.5" rx="4.8" ry="2.8" transform="rotate(62.2 199.5 441.5)" fill="#6e6e6e" stroke="#222" stroke-width="0.9"/>
<ellipse cx="193.8" cy="411.7" rx="4.2" ry="2.5" transform="rotate(62.2 193.8 411.7)" fill="#fff" stroke="#333" stroke-width="0.9"/>
<ellipse cx="193.6" cy="386.7" rx="4.8" ry="2.8" transform="rotate(62.2 193.6 386.7)" fill="#6e6e6e" stroke="#222" stroke-width="0.9"/>
<ellipse cx="183.2" cy="344.7" rx="4.2" ry="2.5" transform="rotate(62.2 183.2 344.7)" fill="#fff" stroke="#333" stroke-width="0.9"/>
<ellipse cx="195.9" cy="331.5" rx="4.8" ry="2.8" transform="rotate(62.2 195.9 331.5)" fill="#6e6e6e" stroke="#222" stroke-width="0.9"/>
<ellipse cx="213.9" cy="328.5" rx="4.2" ry="2.5" transform="rotate(62.2 213.9 328.5)" fill="#fff" stroke="#333" stroke-width="0.9"/>
<ellipse cx="236.1" cy="335.9" rx="4.8" ry="2.8" transform="rotate(62.2 236.1 335.9)" fill="#6e6e6e" stroke="#222" stroke-width="0.9"/>
<ellipse cx="260.9" cy="353.2" rx="4.2" ry="2.5" transform="rotate(62.2 260.9 353.2)" fill="#fff" stroke="#333" stroke-width="0.9"/>
<ellipse cx="286.6" cy="379.2" rx="4.8" ry="2.8" transform="rotate(62.2 286.6 379.2)" fill="#6e6e6e" stroke="#222" stroke-width="0.9"/>
<ellipse cx="311.6" cy="412.1" rx="4.2" ry="2.5" transform="rotate(62.2 311.6 412.1)" fill="#fff" stroke="#333" stroke-width="0.9"/>
<ellipse cx="334" cy="449.7" rx="4.8" ry="2.8" transform="rotate(62.2 334 449.7)" fill="#6e6e6e" stroke="#222" stroke-width="0.9"/>
<ellipse cx="352.4" cy="489.5" rx="4.2" ry="2.5" transform="rotate(62.2 352.4 489.5)" fill="#fff" stroke="#333" stroke-width="0.9"/>
<ellipse cx="365.5" cy="528.7" rx="4.8" ry="2.8" transform="rotate(62.2 365.5 528.7)" fill="#6e6e6e" stroke="#222" stroke-width="0.9"/>
<ellipse cx="372.4" cy="564.6" rx="4.2" ry="2.5" transform="rotate(62.2 372.4 564.6)" fill="#fff" stroke="#333" stroke-width="0.9"/>
<ellipse cx="372.6" cy="594.8" rx="4.8" ry="2.8" transform="rotate(62.2 372.6 594.8)" fill="#6e6e6e" stroke="#222" stroke-width="0.9"/>
<ellipse cx="366.2" cy="617.3" rx="4.2" ry="2.5" transform="rotate(62.2 366.2 617.3)" fill="#fff" stroke="#333" stroke-width="0.9"/>
<ellipse cx="353.5" cy="630.5" rx="4.8" ry="2.8" transform="rotate(62.2 353.5 630.5)" fill="#6e6e6e" stroke="#222" stroke-width="0.9"/>
<ellipse cx="335.5" cy="633.5" rx="4.2" ry="2.5" transform="rotate(62.2 335.5 633.5)" fill="#fff" stroke="#333" stroke-width="0.9"/>
<ellipse cx="313.3" cy="626.1" rx="4.8" ry="2.8" transform="rotate(62.2 313.3 626.1)" fill="#6e6e6e" stroke="#222" stroke-width="0.9"/>
<ellipse cx="288.5" cy="608.8" rx="4.2" ry="2.5" transform="rotate(62.2 288.5 608.8)" fill="#fff" stroke="#333" stroke-width="0.9"/>
<ellipse cx="262.8" cy="582.8" rx="4.8" ry="2.8" transform="rotate(62.2 262.8 582.8)" fill="#6e6e6e" stroke="#222" stroke-width="0.9"/>
<ellipse cx="237.8" cy="549.9" rx="4.2" ry="2.5" transform="rotate(62.2 237.8 549.9)" fill="#fff" stroke="#333" stroke-width="0.9"/>
<ellipse cx="215.4" cy="512.3" rx="4.8" ry="2.8" transform="rotate(62.2 215.4 512.3)" fill="#6e6e6e" stroke="#222" stroke-width="0.9"/>
<ellipse cx="197" cy="472.5" rx="4.2" ry="2.5" transform="rotate(62.2 197 472.5)" fill="#fff" stroke="#333" stroke-width="0.9"/>
<ellipse cx="183.9" cy="433.3" rx="4.8" ry="2.8" transform="rotate(62.2 183.9 433.3)" fill="#6e6e6e" stroke="#222" stroke-width="0.9"/>
<ellipse cx="177" cy="397.4" rx="4.2" ry="2.5" transform="rotate(62.2 177 397.4)" fill="#fff" stroke="#333" stroke-width="0.9"/>
<ellipse cx="176.8" cy="367.2" rx="4.8" ry="2.8" transform="rotate(62.2 176.8 367.2)" fill="#6e6e6e" stroke="#222" stroke-width="0.9"/>
<ellipse cx="273.3" cy="480.7" rx="112.5" ry="44.6" transform="rotate(62.2 273.3 480.7)" fill="#fff" stroke="#222" stroke-width="1.1"/>
<ellipse cx="273.3" cy="480.7" rx="109" ry="43.2" transform="rotate(62.2 273.3 480.7)" fill="none" stroke="#222" stroke-width="0.9"/>
<ellipse cx="273.3" cy="480.7" rx="101" ry="40.1" transform="rotate(62.2 273.3 480.7)" fill="none" stroke="#222" stroke-width="0.9"/>
<ellipse cx="273.3" cy="480.7" rx="98.5" ry="39.1" transform="rotate(62.2 273.3 480.7)" fill="none" stroke="#555" stroke-width="0.6"/>
<path d="M318.4 559.4 L316.7 560.7 L314.8 561.7 L312.8 562.4 L310.7 562.8 L308.4 562.9 L306 562.8 L303.5 562.4 L301 561.7 L298.3 560.8 L291.4 538.8 L293.4 539.5 L295.2 540 L297 540.3 L298.8 540.3 L300.4 540.2 L301.9 539.9 L303.4 539.4 L304.7 538.7 L306 537.8 Z" fill="#fff" stroke="#222" stroke-width="1"/>
<path d="M315.3 560.3 Q308.3 550.8 304.5 540" fill="none" stroke="#444" stroke-width="0.8"/>
<path d="M312.4 561.5 Q305.6 551.5 302.4 540.8" fill="none" stroke="#444" stroke-width="0.8"/>
<path d="M309.2 562 Q302.7 551.6 300 541.2" fill="none" stroke="#444" stroke-width="0.8"/>
<path d="M305.7 561.9 Q299.5 551.2 297.4 541.2" fill="none" stroke="#444" stroke-width="0.8"/>
<path d="M301.9 561.2 Q296.1 550.2 294.6 540.6" fill="none" stroke="#444" stroke-width="0.8"/>
<path d="M319.8 560.7 L317.2 562.7" fill="none" stroke="#222" stroke-width="0.9"/>
<path d="M293.1 537.8 L290.3 536.8" fill="none" stroke="#222" stroke-width="0.9"/>
<path d="M289.8 556.3 L286.8 554.3 L283.8 552 L280.7 549.5 L277.7 546.8 L274.6 543.8 L271.5 540.7 L268.4 537.3 L265.3 533.7 L262.3 530 L265.3 516.4 L267.5 519.2 L269.8 521.7 L272 524.2 L274.2 526.5 L276.5 528.6 L278.7 530.6 L280.9 532.4 L283.1 534.1 L285.2 535.5 Z" fill="#fff" stroke="#222" stroke-width="1"/>
<path d="M285.2 552.4 Q281.1 541.3 282.1 534.1" fill="none" stroke="#444" stroke-width="0.8"/>
<path d="M280.7 548.8 Q277.2 537.8 278.8 531.4" fill="none" stroke="#444" stroke-width="0.8"/>
<path d="M276.1 544.6 Q273.2 533.9 275.4 528.3" fill="none" stroke="#444" stroke-width="0.8"/>
<path d="M271.5 540 Q269.2 529.6 272 524.8" fill="none" stroke="#444" stroke-width="0.8"/>
<path d="M266.9 534.9 Q265.2 525 268.6 521.1" fill="none" stroke="#444" stroke-width="0.8"/>
<path d="M291 558.5 L286.5 555.5" fill="none" stroke="#222" stroke-width="0.9"/>
<path d="M268.1 518.5 L264.9 514.5" fill="none" stroke="#222" stroke-width="0.9"/>
<path d="M253.4 517.8 L250.6 513.5 L247.9 509 L245.2 504.5 L242.6 499.9 L240.2 495.2 L237.8 490.5 L235.6 485.7 L233.5 480.9 L231.5 476.1 L243 477.4 L244.4 480.8 L245.9 484.3 L247.6 487.8 L249.3 491.2 L251.1 494.6 L252.9 497.9 L254.9 501.2 L256.8 504.5 L258.9 507.6 Z" fill="#fff" stroke="#222" stroke-width="1"/>
<path d="M249.5 510.9 Q250.3 503.3 255.6 503.2" fill="none" stroke="#444" stroke-width="0.8"/>
<path d="M245.5 504.2 Q246.9 497.4 252.6 498.2" fill="none" stroke="#444" stroke-width="0.8"/>
<path d="M241.7 497.3 Q243.8 491.3 249.8 493.1" fill="none" stroke="#444" stroke-width="0.8"/>
<path d="M238.2 490.3 Q240.8 485.2 247.2 487.9" fill="none" stroke="#444" stroke-width="0.8"/>
<path d="M234.9 483.3 Q238.1 479 244.7 482.6" fill="none" stroke="#444" stroke-width="0.8"/>
<path d="M253.9 519.9 L249.5 513.3" fill="none" stroke="#222" stroke-width="0.9"/>
<path d="M245.6 481.5 L243.5 476.5" fill="none" stroke="#222" stroke-width="0.9"/>
<path d="M226.4 461.9 L225.1 457.3 L223.8 452.8 L222.8 448.3 L221.9 444 L221.2 439.8 L220.7 435.7 L220.4 431.8 L220.2 428 L220.2 424.4 L234.8 439.9 L234.8 442.5 L234.9 445.2 L235.2 448 L235.5 451 L236 454.1 L236.7 457.2 L237.4 460.4 L238.3 463.7 L239.3 467.1 Z" fill="#fff" stroke="#222" stroke-width="1"/>
<path d="M225 455.3 Q230.2 454.8 237.3 461.8" fill="none" stroke="#444" stroke-width="0.8"/>
<path d="M223.4 448.7 Q229 449.2 236.1 456.9" fill="none" stroke="#444" stroke-width="0.8"/>
<path d="M222.1 442.3 Q228.2 443.7 235.2 452.1" fill="none" stroke="#444" stroke-width="0.8"/>
<path d="M221.3 436.2 Q227.7 438.6 234.6 447.6" fill="none" stroke="#444" stroke-width="0.8"/>
<path d="M220.8 430.4 Q227.5 433.8 234.3 443.3" fill="none" stroke="#444" stroke-width="0.8"/>
<path d="M225.9 463 L223.7 455.9" fill="none" stroke="#222" stroke-width="0.9"/>
<path d="M236 444.2 L236 440.4" fill="none" stroke="#222" stroke-width="0.9"/>
<path d="M221.3 414.9 L222.1 412.1 L223 409.6 L224 407.3 L225.3 405.3 L226.7 403.5 L228.2 402 L229.9 400.7 L231.8 399.7 L233.8 399 L244.7 421.5 L243.2 422 L241.9 422.7 L240.6 423.6 L239.5 424.7 L238.5 426 L237.6 427.5 L236.8 429.1 L236.1 430.9 L235.6 432.9 Z" fill="#fff" stroke="#222" stroke-width="1"/>
<path d="M223.1 411.6 Q230.3 418.4 235.9 429.2" fill="none" stroke="#444" stroke-width="0.8"/>
<path d="M224.6 408.1 Q231.8 415.7 237 426.7" fill="none" stroke="#444" stroke-width="0.8"/>
<path d="M226.5 405.2 Q233.7 413.5 238.4 424.5" fill="none" stroke="#444" stroke-width="0.8"/>
<path d="M228.7 402.8 Q235.8 411.8 240.1 422.7" fill="none" stroke="#444" stroke-width="0.8"/>
<path d="M231.3 401.1 Q238.3 410.6 242.1 421.4" fill="none" stroke="#444" stroke-width="0.8"/>
<path d="M220 414.3 L221.1 410.1" fill="none" stroke="#222" stroke-width="0.9"/>
<path d="M243.8 423.9 L246 423.2" fill="none" stroke="#222" stroke-width="0.9"/>
<path d="M240.6 398.6 L243.1 399 L245.6 399.7 L248.3 400.6 L251.1 401.9 L253.9 403.4 L256.8 405.1 L259.8 407.1 L262.8 409.4 L265.9 411.9 L267.9 430.8 L265.7 429 L263.5 427.3 L261.4 425.9 L259.3 424.6 L257.2 423.5 L255.2 422.6 L253.2 421.9 L251.4 421.4 L249.6 421.1 Z" fill="#fff" stroke="#222" stroke-width="1"/>
<path d="M244.7 400.2 Q250.5 411.2 252 420.8" fill="none" stroke="#444" stroke-width="0.8"/>
<path d="M248.6 401.5 Q254 412.6 254.9 421.7" fill="none" stroke="#444" stroke-width="0.8"/>
<path d="M252.7 403.4 Q257.7 414.6 258 423.2" fill="none" stroke="#444" stroke-width="0.8"/>
<path d="M257 405.9 Q261.6 417.2 261.2 425" fill="none" stroke="#444" stroke-width="0.8"/>
<path d="M261.4 409 Q265.5 420.1 264.5 427.3" fill="none" stroke="#444" stroke-width="0.8"/>
<path d="M239.1 396.7 L242.9 397.3" fill="none" stroke="#222" stroke-width="0.9"/>
<path d="M265.5 430.2 L268.7 432.9" fill="none" stroke="#222" stroke-width="0.9"/>
<path d="M275.1 420.7 L278.2 424.1 L281.3 427.7 L284.3 431.4 L287.3 435.3 L290.3 439.4 L293.2 443.6 L296 447.9 L298.7 452.4 L301.4 456.9 L293.7 463.5 L291.7 460.2 L289.8 456.9 L287.7 453.8 L285.6 450.7 L283.5 447.8 L281.3 445 L279.1 442.2 L276.8 439.7 L274.6 437.2 Z" fill="#fff" stroke="#222" stroke-width="1"/>
<path d="M279.7 426.5 Q281.4 436.4 278 440.3" fill="none" stroke="#444" stroke-width="0.8"/>
<path d="M284.2 432 Q285.3 441.4 281.4 444.4" fill="none" stroke="#444" stroke-width="0.8"/>
<path d="M288.6 437.8 Q289.1 446.7 284.7 448.8" fill="none" stroke="#444" stroke-width="0.8"/>
<path d="M292.9 444 Q292.8 452.3 287.9 453.4" fill="none" stroke="#444" stroke-width="0.8"/>
<path d="M297.1 450.5 Q296.3 458.1 291 458.2" fill="none" stroke="#444" stroke-width="0.8"/>
<path d="M274.2 418.4 L278.9 423.6" fill="none" stroke="#222" stroke-width="0.9"/>
<path d="M290.8 460.2 L293.6 464.9" fill="none" stroke="#222" stroke-width="0.9"/>
<path d="M308.8 470.9 L311 475.7 L313.1 480.5 L315.1 485.3 L317 490 L318.6 494.8 L320.2 499.5 L321.5 504.1 L322.8 508.6 L323.8 513.1 L309.9 504.2 L309.2 501 L308.3 497.7 L307.3 494.3 L306.2 490.9 L305 487.5 L303.6 484 L302.2 480.6 L300.7 477.1 L299 473.6 Z" fill="#fff" stroke="#222" stroke-width="1"/>
<path d="M311.7 478.1 Q308.5 482.4 301.9 478.8" fill="none" stroke="#444" stroke-width="0.8"/>
<path d="M314.7 485.2 Q310.9 488.6 304.1 484.1" fill="none" stroke="#444" stroke-width="0.8"/>
<path d="M317.3 492.3 Q313 494.7 306.1 489.3" fill="none" stroke="#444" stroke-width="0.8"/>
<path d="M319.7 499.3 Q314.9 500.7 307.8 494.5" fill="none" stroke="#444" stroke-width="0.8"/>
<path d="M321.6 506.1 Q316.4 506.6 309.3 499.6" fill="none" stroke="#444" stroke-width="0.8"/>
<path d="M308.9 469.3 L312.3 476.6" fill="none" stroke="#222" stroke-width="0.9"/>
<path d="M307.9 499.7 L309 504.4" fill="none" stroke="#222" stroke-width="0.9"/>
<path d="M325.9 525.7 L326.2 529.6 L326.4 533.4 L326.4 537 L326.2 540.4 L325.8 543.6 L325.3 546.5 L324.5 549.3 L323.6 551.8 L322.6 554.1 L309 533.9 L309.8 532.3 L310.5 530.5 L311 528.5 L311.4 526.3 L311.7 524 L311.8 521.5 L311.8 518.9 L311.7 516.2 L311.4 513.4 Z" fill="#fff" stroke="#222" stroke-width="1"/>
<path d="M325.8 531 Q319.1 527.6 312.3 518.1" fill="none" stroke="#444" stroke-width="0.8"/>
<path d="M325.8 536.4 Q318.9 532.1 312.4 522.1" fill="none" stroke="#444" stroke-width="0.8"/>
<path d="M325.4 541.3 Q318.4 536.1 312.1 525.8" fill="none" stroke="#444" stroke-width="0.8"/>
<path d="M324.7 545.8 Q317.5 539.8 311.6 529.2" fill="none" stroke="#444" stroke-width="0.8"/>
<path d="M323.5 549.8 Q316.3 543 310.7 532.2" fill="none" stroke="#444" stroke-width="0.8"/>
<path d="M326.9 525.5 L327.4 531.5" fill="none" stroke="#222" stroke-width="0.9"/>
<path d="M308.8 530.4 L307.7 532.8" fill="none" stroke="#222" stroke-width="0.9"/>
<ellipse cx="295" cy="562.3" rx="2" ry="1.5" fill="#666" stroke="#222" stroke-width="0.6"/>
<rect x="284.4" y="530.1" width="3" height="3" transform="rotate(45 285.9 531.6)" fill="#fff" stroke="#333" stroke-width="0.7"/>
<ellipse cx="257.1" cy="526" rx="2" ry="1.5" fill="#666" stroke="#222" stroke-width="0.6"/>
<rect x="260.4" y="506.2" width="3" height="3" transform="rotate(45 261.9 507.7)" fill="#fff" stroke="#333" stroke-width="0.7"/>
<ellipse cx="226.8" cy="468.5" rx="2" ry="1.5" fill="#666" stroke="#222" stroke-width="0.6"/>
<rect x="241.8" y="469.6" width="3" height="3" transform="rotate(45 243.3 471.1)" fill="#fff" stroke="#333" stroke-width="0.7"/>
<ellipse cx="218.3" cy="416.7" rx="2" ry="1.5" fill="#666" stroke="#222" stroke-width="0.6"/>
<rect x="237.2" y="437.5" width="3" height="3" transform="rotate(45 238.7 439)" fill="#fff" stroke="#333" stroke-width="0.7"/>
<ellipse cx="235.5" cy="394.9" rx="2" ry="1.5" fill="#666" stroke="#222" stroke-width="0.6"/>
<rect x="248.8" y="425" width="3" height="3" transform="rotate(45 250.3 426.5)" fill="#fff" stroke="#333" stroke-width="0.7"/>
<ellipse cx="270.4" cy="413.2" rx="2" ry="1.5" fill="#666" stroke="#222" stroke-width="0.6"/>
<rect x="271.2" y="437.8" width="3" height="3" transform="rotate(45 272.7 439.3)" fill="#fff" stroke="#333" stroke-width="0.7"/>
<ellipse cx="306.6" cy="463.1" rx="2" ry="1.5" fill="#666" stroke="#222" stroke-width="0.6"/>
<rect x="293.8" y="470" width="3" height="3" transform="rotate(45 295.3 471.5)" fill="#fff" stroke="#333" stroke-width="0.7"/>
<ellipse cx="327.3" cy="521.3" rx="2" ry="1.5" fill="#666" stroke="#222" stroke-width="0.6"/>
<rect x="306.2" y="506.5" width="3" height="3" transform="rotate(45 307.7 508)" fill="#fff" stroke="#333" stroke-width="0.7"/>
<ellipse cx="322.7" cy="560.4" rx="2" ry="1.5" fill="#666" stroke="#222" stroke-width="0.6"/>
<rect x="302.4" y="530.2" width="3" height="3" transform="rotate(45 303.9 531.7)" fill="#fff" stroke="#333" stroke-width="0.7"/>
<ellipse cx="290.9" cy="518.7" rx="5" ry="3.6" transform="rotate(62.2 290.9 518.7)" fill="#fff" stroke="#333" stroke-width="0.9"/>
<ellipse cx="281" cy="516.7" rx="5" ry="3.6" transform="rotate(62.2 281 516.7)" fill="#fff" stroke="#333" stroke-width="0.9"/>
<ellipse cx="269" cy="505.7" rx="5" ry="3.6" transform="rotate(62.2 269 505.7)" fill="#fff" stroke="#333" stroke-width="0.9"/>
<ellipse cx="258" cy="488.5" rx="5" ry="3.6" transform="rotate(62.2 258 488.5)" fill="#fff" stroke="#333" stroke-width="0.9"/>
<ellipse cx="251.1" cy="469.9" rx="5" ry="3.6" transform="rotate(62.2 251.1 469.9)" fill="#fff" stroke="#333" stroke-width="0.9"/>
<ellipse cx="250" cy="454.8" rx="5" ry="3.6" transform="rotate(62.2 250 454.8)" fill="#fff" stroke="#333" stroke-width="0.9"/>
<ellipse cx="255.1" cy="447.3" rx="5" ry="3.6" transform="rotate(62.2 255.1 447.3)" fill="#fff" stroke="#333" stroke-width="0.9"/>
<ellipse cx="265" cy="449.3" rx="5" ry="3.6" transform="rotate(62.2 265 449.3)" fill="#fff" stroke="#333" stroke-width="0.9"/>
<ellipse cx="277" cy="460.3" rx="5" ry="3.6" transform="rotate(62.2 277 460.3)" fill="#fff" stroke="#333" stroke-width="0.9"/>
<ellipse cx="288" cy="477.5" rx="5" ry="3.6" transform="rotate(62.2 288 477.5)" fill="#fff" stroke="#333" stroke-width="0.9"/>
<ellipse cx="294.9" cy="496.1" rx="5" ry="3.6" transform="rotate(62.2 294.9 496.1)" fill="#fff" stroke="#333" stroke-width="0.9"/>
<ellipse cx="296" cy="511.2" rx="5" ry="3.6" transform="rotate(62.2 296 511.2)" fill="#fff" stroke="#333" stroke-width="0.9"/>
<ellipse cx="273.3" cy="482.2" rx="29.7" ry="15.8" transform="rotate(63.2 273.3 482.2)" fill="#fff" stroke="#222" stroke-width="1.1"/>
<ellipse cx="271.5" cy="483.2" rx="29.7" ry="15.6" transform="rotate(63.2 271.5 483.2)" fill="#fff" stroke="#222" stroke-width="1.1"/>
<ellipse cx="270.6" cy="484.2" rx="26" ry="13.3" transform="rotate(64 270.6 484.2)" fill="#fff" stroke="#333" stroke-width="0.9"/>
<ellipse cx="269.9" cy="485.1" rx="23.1" ry="11.5" transform="rotate(64.9 269.9 485.1)" fill="#fff" stroke="#222" stroke-width="1"/>
<clipPath id="spl"><ellipse cx="269.9" cy="485.1" rx="22" ry="10.5" transform="rotate(64.9 269.9 485.1)"/></clipPath>
<g clip-path="url(#spl)"><rect x="258" y="468" width="15" height="2.6" fill="#fff" stroke="#333" stroke-width="0.8"/><rect x="260.1" y="474" width="15" height="2.6" fill="#fff" stroke="#333" stroke-width="0.8"/><rect x="262.2" y="480" width="15" height="2.6" fill="#fff" stroke="#333" stroke-width="0.8"/><rect x="264.3" y="486" width="15" height="2.6" fill="#fff" stroke="#333" stroke-width="0.8"/><rect x="266.4" y="492" width="15" height="2.6" fill="#fff" stroke="#333" stroke-width="0.8"/><rect x="268.5" y="498" width="15" height="2.6" fill="#fff" stroke="#333" stroke-width="0.8"/><rect x="270.6" y="504" width="15" height="2.6" fill="#fff" stroke="#333" stroke-width="0.8"/><ellipse cx="266" cy="487.5" rx="18" ry="7.5" transform="rotate(64.9 266 487.5)" fill="none" stroke="#444" stroke-width="0.8"/></g>
<text x="248.5" y="236" font-size="17">1</text>
<text x="362.5" y="121.5" font-size="17">2</text>
<text x="563.5" y="134.6" font-size="17">3</text>
<text x="627.5" y="85.8" font-size="17">4</text>
<text x="779" y="95" font-size="17">5</text>
<line x1="246.4" y1="246.7" x2="222.2" y2="314.9" stroke="#333" stroke-width="1"/>
<line x1="380.5" y1="120.3" x2="469.8" y2="150.4" stroke="#333" stroke-width="1"/>
<line x1="569" y1="145" x2="569" y2="159.4" stroke="#333" stroke-width="1"/>
<line x1="629.8" y1="96.2" x2="625.8" y2="135.4" stroke="#333" stroke-width="1"/>
<line x1="780.6" y1="104.4" x2="765.9" y2="182.8" stroke="#333" stroke-width="1"/>
</svg></body></html>
